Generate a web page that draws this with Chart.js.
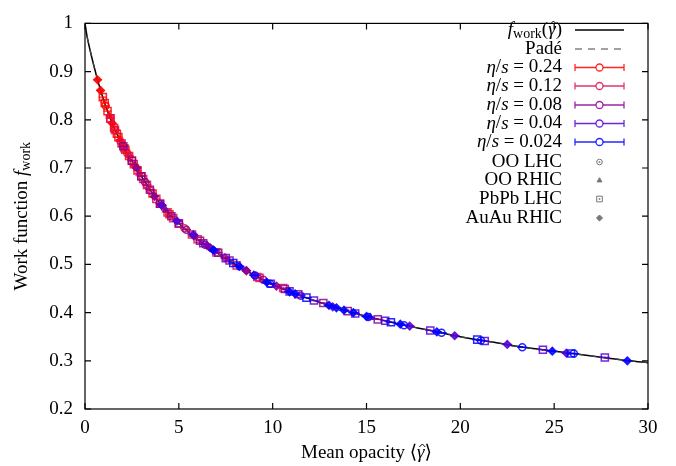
<!DOCTYPE html>
<html>
<head>
<meta charset="utf-8">
<script src="https://cdn.jsdelivr.net/npm/chart.js@4.4.1/dist/chart.umd.min.js"></script>
<style>
    html, body { margin: 0; padding: 0; background: #fff; }
</style>
</head>
<body>
<canvas id="workChart" width="676" height="466"></canvas>
<script>
// curve f_work(gamma)
const curveGamma = [0, 0.1, 0.25, 0.5, 0.75, 1, 1.5, 2, 2.5, 3, 3.5, 4, 4.5, 5, 6, 7, 8, 9, 10, 11, 12, 13, 14, 15, 16, 17, 18, 19, 20, 21, 22, 23, 24, 25, 26, 27, 28, 29, 30];
const curveF = [1.0, 0.975, 0.948, 0.908, 0.872, 0.840, 0.788, 0.748, 0.714, 0.683, 0.653, 0.626, 0.604, 0.585, 0.552, 0.525, 0.500, 0.478, 0.458, 0.442, 0.428, 0.415, 0.403, 0.392, 0.383, 0.374, 0.366, 0.358, 0.350, 0.343, 0.337, 0.330, 0.325, 0.320, 0.315, 0.310, 0.305, 0.300, 0.296];
// Pade approximant (lies on top of the curve)
const padeGamma = [0, 0.1, 0.25, 0.5, 0.75, 1, 1.5, 2, 2.5, 3, 3.5, 4, 4.5, 5, 6, 7, 8, 9, 10, 11, 12, 13, 14, 15, 16, 17, 18, 19, 20, 21, 22, 23, 24, 25, 26, 27, 28, 29, 30];
const padeF = [1.0, 0.975, 0.948, 0.908, 0.872, 0.840, 0.788, 0.748, 0.714, 0.683, 0.653, 0.626, 0.604, 0.585, 0.552, 0.525, 0.500, 0.478, 0.458, 0.442, 0.428, 0.415, 0.403, 0.392, 0.383, 0.374, 0.366, 0.358, 0.350, 0.343, 0.337, 0.330, 0.325, 0.320, 0.315, 0.310, 0.305, 0.300, 0.296];

// systems: 0 = OO LHC, 1 = OO RHIC, 2 = PbPb LHC, 3 = AuAu RHIC
const systemNames = ['OO LHC', 'OO RHIC', 'PbPb LHC', 'AuAu RHIC'];
const etaLabels = ['0.24', '0.12', '0.08', '0.04', '0.024'];
const errSize = [0.22, 0.24, 0.25, 0.26, 0.28];

// eta/s = 0.24
const gam24 = [0.67, 0.83, 0.95, 1.05, 1.1, 1.2, 1.3, 1.35, 1.45, 1.55, 1.6, 1.7, 1.78, 1.85, 1.95, 2.05, 2.15, 2.25, 2.35, 2.5, 2.65, 2.8, 3.0, 3.3, 3.6, 4.0, 4.5];
const fw24 = [0.883, 0.861, 0.847, 0.835, 0.829, 0.818, 0.808, 0.803, 0.793, 0.783, 0.779, 0.771, 0.764, 0.759, 0.751, 0.745, 0.738, 0.731, 0.725, 0.715, 0.705, 0.695, 0.683, 0.665, 0.647, 0.626, 0.604];
const sys24 = [3, 3, 2, 2, 0, 2, 1, 2, 3, 2, 0, 2, 2, 1, 2, 3, 2, 0, 2, 2, 3, 2, 2, 0, 2, 2, 2];
// eta/s = 0.12
const gam12 = [1.35, 1.6, 1.9, 2.1, 2.35, 2.6, 2.9, 3.1, 3.3, 3.5, 3.8, 4.1, 4.4, 4.7, 5.0, 5.3, 5.7, 6.0, 6.5, 7.0, 7.46, 8.08, 8.6, 9.18, 9.3, 10.56];
const fw12 = [0.803, 0.779, 0.755, 0.741, 0.725, 0.708, 0.689, 0.677, 0.665, 0.653, 0.636, 0.622, 0.608, 0.596, 0.585, 0.575, 0.562, 0.552, 0.539, 0.525, 0.514, 0.498, 0.487, 0.474, 0.472, 0.451];
const sys12 = [2, 2, 0, 2, 3, 2, 1, 2, 2, 0, 2, 3, 2, 2, 2, 0, 2, 2, 3, 2, 3, 2, 3, 2, 2, 2];
// eta/s = 0.08
const gam08 = [2.04, 2.5, 2.75, 3.0, 3.2, 3.46, 3.7, 4.0, 4.3, 4.6, 5.0, 5.4, 5.8, 6.13, 6.3, 6.66, 7.1, 7.7, 8.6, 9.5, 10.2, 10.65, 11.36, 12.7, 14.0, 15.6];
const fw08 = [0.745, 0.715, 0.700, 0.683, 0.671, 0.655, 0.641, 0.626, 0.613, 0.600, 0.585, 0.572, 0.559, 0.549, 0.544, 0.535, 0.524, 0.508, 0.487, 0.468, 0.455, 0.449, 0.438, 0.420, 0.403, 0.386];
const sys08 = [2, 2, 3, 2, 0, 2, 3, 2, 1, 2, 2, 0, 3, 2, 2, 3, 2, 2, 3, 0, 3, 2, 2, 2, 2, 2];
// eta/s = 0.04
const gam04 = [4.08, 4.9, 5.77, 6.4, 6.9, 7.5, 8.3, 9.0, 9.9, 10.9, 11.5, 12.2, 13.2, 14.4, 15.2, 16.0, 17.3, 18.4, 19.7, 21.3, 22.5, 24.4, 25.65, 27.7];
const fw04 = [0.623, 0.590, 0.562, 0.541, 0.528, 0.513, 0.493, 0.478, 0.460, 0.444, 0.435, 0.425, 0.412, 0.398, 0.390, 0.383, 0.372, 0.363, 0.352, 0.341, 0.334, 0.323, 0.316, 0.307];
const sys04 = [3, 3, 3, 0, 3, 2, 1, 3, 2, 2, 0, 2, 3, 2, 1, 2, 3, 2, 3, 2, 3, 2, 3, 2];
// eta/s = 0.024
const gam024 = [6.83, 7.9, 8.22, 9.06, 9.68, 9.86, 10.9, 11.2, 11.8, 13.0, 13.4, 13.8, 14.3, 15.0, 15.1, 16.3, 16.8, 17.0, 18.75, 19.0, 20.9, 21.1, 23.3, 24.9, 25.9, 26.05, 28.9];
const fw024 = [0.530, 0.503, 0.496, 0.477, 0.463, 0.460, 0.443, 0.439, 0.431, 0.415, 0.410, 0.405, 0.400, 0.392, 0.391, 0.380, 0.376, 0.374, 0.360, 0.358, 0.344, 0.342, 0.328, 0.320, 0.315, 0.315, 0.300];
const sys024 = [3, 2, 3, 0, 3, 0, 3, 3, 2, 3, 3, 3, 3, 3, 0, 2, 3, 0, 3, 0, 2, 0, 0, 3, 2, 0, 3];

const xTicks = [0, 5, 10, 15, 20, 25, 30];
const yTicks = [0.2, 0.3, 0.4, 0.5, 0.6, 0.7, 0.8, 0.9, 1];

const etaColors = ['rgba(255,0,0,0.85)', 'rgba(222,16,80,0.85)', 'rgba(140,0,145,0.85)', 'rgba(85,0,215,0.85)', 'rgba(0,0,255,0.85)'];
const sysStyle = ['circle', 'triangle', 'rect', 'rectRot'];
const sysRadius = [3.5, 3.5, 5, 3.8];
const sysHollow = [true, false, true, false];

const serif = "'Liberation Serif', 'DejaVu Serif', serif";

function pontos(gam, fw, sys, k) {
    return {
        label: 'eta/s = ' + etaLabels[k],
        data: gam.map((g, i) => ({ x: g, y: fw[i] })),
        errX: gam.map(() => errSize[k]),
        sys: sys,
        showLine: false,
        borderColor: etaColors[k],
        borderWidth: 1.5,
        pointStyle: sys.map(s => sysStyle[s]),
        pointRadius: sys.map(s => sysRadius[s]),
        pointBorderWidth: 1.5,
        pointBackgroundColor: sys.map(s => sysHollow[s] ? 'rgba(255,255,255,0)' : etaColors[k]),
        pointBorderColor: etaColors[k],
        order: 5 - k
    };
}

// horizontal error bars drawn before each point set
const errorBars = {
    id: 'errorBars',
    beforeDatasetDraw(chart, args) {
        const ds = chart.data.datasets[args.index];
        if (!ds.errX) return;
        const xs = chart.scales.x, ys = chart.scales.y, ctx = chart.ctx;
        ctx.save();
        ctx.strokeStyle = ds.borderColor;
        ctx.lineWidth = 1.3;
        ds.data.forEach((p, i) => {
            const y = ys.getPixelForValue(p.y);
            ctx.beginPath();
            ctx.moveTo(xs.getPixelForValue(p.x - ds.errX[i]), y);
            ctx.lineTo(xs.getPixelForValue(p.x + ds.errX[i]), y);
            ctx.stroke();
        });
        ctx.restore();
    },
    afterDatasetDraw(chart, args) {
        // centre dot of the hollow markers
        const ds = chart.data.datasets[args.index];
        if (!ds.sys) return;
        const meta = chart.getDatasetMeta(args.index), ctx = chart.ctx;
        ctx.save();
        ctx.fillStyle = ds.borderColor;
        meta.data.forEach((el, i) => {
            if (sysHollow[ds.sys[i]]) ctx.fillRect(el.x - 0.8, el.y - 0.8, 1.6, 1.6);
        });
        ctx.restore();
    }
};

function drawRuns(ctx, runs, x, y, align) {
    let w = 0;
    runs.forEach(r => { ctx.font = r.font; w += ctx.measureText(r.t).width; });
    let cx = align === 'right' ? x - w : (align === 'center' ? x - w / 2 : x);
    runs.forEach(r => {
        ctx.font = r.font;
        const rw = ctx.measureText(r.t).width;
        ctx.fillText(r.t, cx, y + (r.dy || 0));
        if (r.hat) {
            // circumflex over gamma
            const hx = cx + rw / 2 + 1.5, hy = y - 6;
            ctx.save();
            ctx.lineWidth = 1;
            ctx.strokeStyle = ctx.fillStyle;
            ctx.beginPath();
            ctx.moveTo(hx - 3, hy);
            ctx.lineTo(hx, hy - 3);
            ctx.lineTo(hx + 3, hy);
            ctx.stroke();
            ctx.restore();
        }
        cx += rw;
    });
}

function gammaHat(size) {
    return [{ t: 'γ', font: 'italic ' + size + 'px ' + serif, hat: true }];
}

// frame, inward ticks, titles and the legend
const moldura = {
    id: 'moldura',
    afterDraw(chart) {
        const ctx = chart.ctx, a = chart.chartArea;
        const xs = chart.scales.x, ys = chart.scales.y;
        ctx.save();
        ctx.strokeStyle = '#000';
        ctx.lineWidth = 1.2;
        ctx.strokeRect(a.left, a.top, a.right - a.left, a.bottom - a.top);
        ctx.beginPath();
        xTicks.forEach(v => {
            const px = xs.getPixelForValue(v);
            ctx.moveTo(px, a.bottom); ctx.lineTo(px, a.bottom - 6);
            ctx.moveTo(px, a.top); ctx.lineTo(px, a.top + 6);
        });
        yTicks.forEach(v => {
            const py = ys.getPixelForValue(v);
            ctx.moveTo(a.left, py); ctx.lineTo(a.left + 6, py);
            ctx.moveTo(a.right, py); ctx.lineTo(a.right - 6, py);
        });
        ctx.stroke();

        ctx.fillStyle = '#000';
        ctx.textBaseline = 'middle';
        // x title
        drawRuns(ctx, [
            { t: 'Mean opacity ', font: '19px ' + serif },
            { t: '⟨', font: '19px ' + serif },
            ...gammaHat(19),
            { t: '⟩', font: '19px ' + serif }
        ], (a.left + a.right) / 2, 453, 'center');
        // y title
        ctx.save();
        ctx.translate(22, (a.top + a.bottom) / 2);
        ctx.rotate(-Math.PI / 2);
        drawRuns(ctx, [
            { t: 'Work function ', font: '19px ' + serif },
            { t: 'f', font: 'italic 19px ' + serif },
            { t: 'work', font: '14px ' + serif, dy: 4 }
        ], 0, 0, 'center');
        ctx.restore();

        // legend
        const tx = 562, x0 = 575, x1 = 624, xm = 599.5;
        const rowY = [30, 49, 67.5, 86, 105, 123.5, 142, 162, 180.5, 199, 218];
        drawRuns(ctx, [
            { t: 'f', font: 'italic 19px ' + serif },
            { t: 'work', font: '14px ' + serif, dy: 4 },
            { t: '(', font: '19px ' + serif },
            ...gammaHat(19),
            { t: ')', font: '19px ' + serif }
        ], tx, rowY[0], 'right');
        ctx.lineWidth = 1.5;
        ctx.beginPath(); ctx.moveTo(x0, rowY[0]); ctx.lineTo(x1, rowY[0]); ctx.stroke();

        drawRuns(ctx, [{ t: 'Padé', font: '19px ' + serif }], tx, rowY[1], 'right');
        ctx.save();
        ctx.setLineDash([7, 6]);
        ctx.lineWidth = 1.2;
        ctx.strokeStyle = '#444';
        ctx.beginPath(); ctx.moveTo(x0, rowY[1]); ctx.lineTo(x1, rowY[1]); ctx.stroke();
        ctx.restore();

        etaLabels.forEach((lab, k) => {
            const y = rowY[2 + k];
            ctx.fillStyle = '#000';
            drawRuns(ctx, [
                { t: 'η', font: 'italic 19px ' + serif },
                { t: '/', font: '19px ' + serif },
                { t: 's', font: 'italic 19px ' + serif },
                { t: ' = ' + lab, font: '19px ' + serif }
            ], tx, y, 'right');
            ctx.strokeStyle = etaColors[k];
            ctx.lineWidth = 1.3;
            ctx.beginPath();
            ctx.moveTo(x0, y); ctx.lineTo(x1, y);
            ctx.moveTo(x0, y - 3.5); ctx.lineTo(x0, y + 3.5);
            ctx.moveTo(x1, y - 3.5); ctx.lineTo(x1, y + 3.5);
            ctx.stroke();
            ctx.beginPath(); ctx.arc(xm, y, 3.5, 0, Math.PI * 2);
            ctx.fillStyle = '#fff'; ctx.fill(); ctx.stroke();
        });

        systemNames.forEach((nome, s) => {
            const y = rowY[7 + s];
            ctx.fillStyle = '#000';
            drawRuns(ctx, [{ t: nome, font: '19px ' + serif }], tx, y, 'right');
            ctx.strokeStyle = '#777';
            ctx.fillStyle = sysHollow[s] ? 'rgba(255,255,255,0)' : '#777';
            ctx.lineWidth = 1;
            Chart.helpers.drawPoint(ctx, { pointStyle: sysStyle[s], radius: sysRadius[s] * 0.8, borderWidth: 1 }, xm, y);
            if (sysHollow[s]) {
                ctx.fillStyle = '#777';
                ctx.fillRect(xm - 0.8, y - 0.8, 1.6, 1.6);
            }
        });
        ctx.restore();
    }
};

const ctx = document.getElementById('workChart').getContext('2d');
const workChart = new Chart(ctx, {
    type: 'scatter',
    data: {
        datasets: [
            {
                label: 'Padé',
                data: padeGamma.map((g, i) => ({ x: g, y: padeF[i] })),
                showLine: true,
                borderColor: '#444',
                borderWidth: 1.2,
                borderDash: [7, 6],
                pointRadius: 0,
                cubicInterpolationMode: 'monotone',
                order: 9
            },
            {
                label: 'f_work',
                data: curveGamma.map((g, i) => ({ x: g, y: curveF[i] })),
                showLine: true,
                borderColor: '#000',
                borderWidth: 1.5,
                pointRadius: 0,
                cubicInterpolationMode: 'monotone',
                order: 10
            },
            pontos(gam24, fw24, sys24, 0),
            pontos(gam12, fw12, sys12, 1),
            pontos(gam08, fw08, sys08, 2),
            pontos(gam04, fw04, sys04, 3),
            pontos(gam024, fw024, sys024, 4)
        ]
    },
    options: {
        responsive: false,
        animation: false,
        layout: { padding: { left: 0, right: 28, top: 14, bottom: 0 } },
        plugins: {
            legend: { display: false },
            tooltip: { enabled: false }
        },
        scales: {
            x: {
                type: 'linear',
                min: 0,
                max: 30,
                afterBuildTicks: s => { s.ticks = xTicks.map(v => ({ value: v })); },
                ticks: { color: '#000', font: { family: serif, size: 19 }, padding: 8, maxRotation: 0 },
                grid: { display: false, drawTicks: false },
                border: { display: false },
                afterFit: s => { s.height = 57; }
            },
            y: {
                min: 0.2,
                max: 1,
                afterBuildTicks: s => { s.ticks = yTicks.map(v => ({ value: v })); },
                ticks: { color: '#000', font: { family: serif, size: 19 }, padding: 12, callback: v => String(Math.round(v * 10) / 10) },
                grid: { display: false, drawTicks: false },
                border: { display: false },
                afterFit: s => { s.width = 85; }
            }
        }
    },
    plugins: [errorBars, moldura]
});
</script>
</body>
</html>
